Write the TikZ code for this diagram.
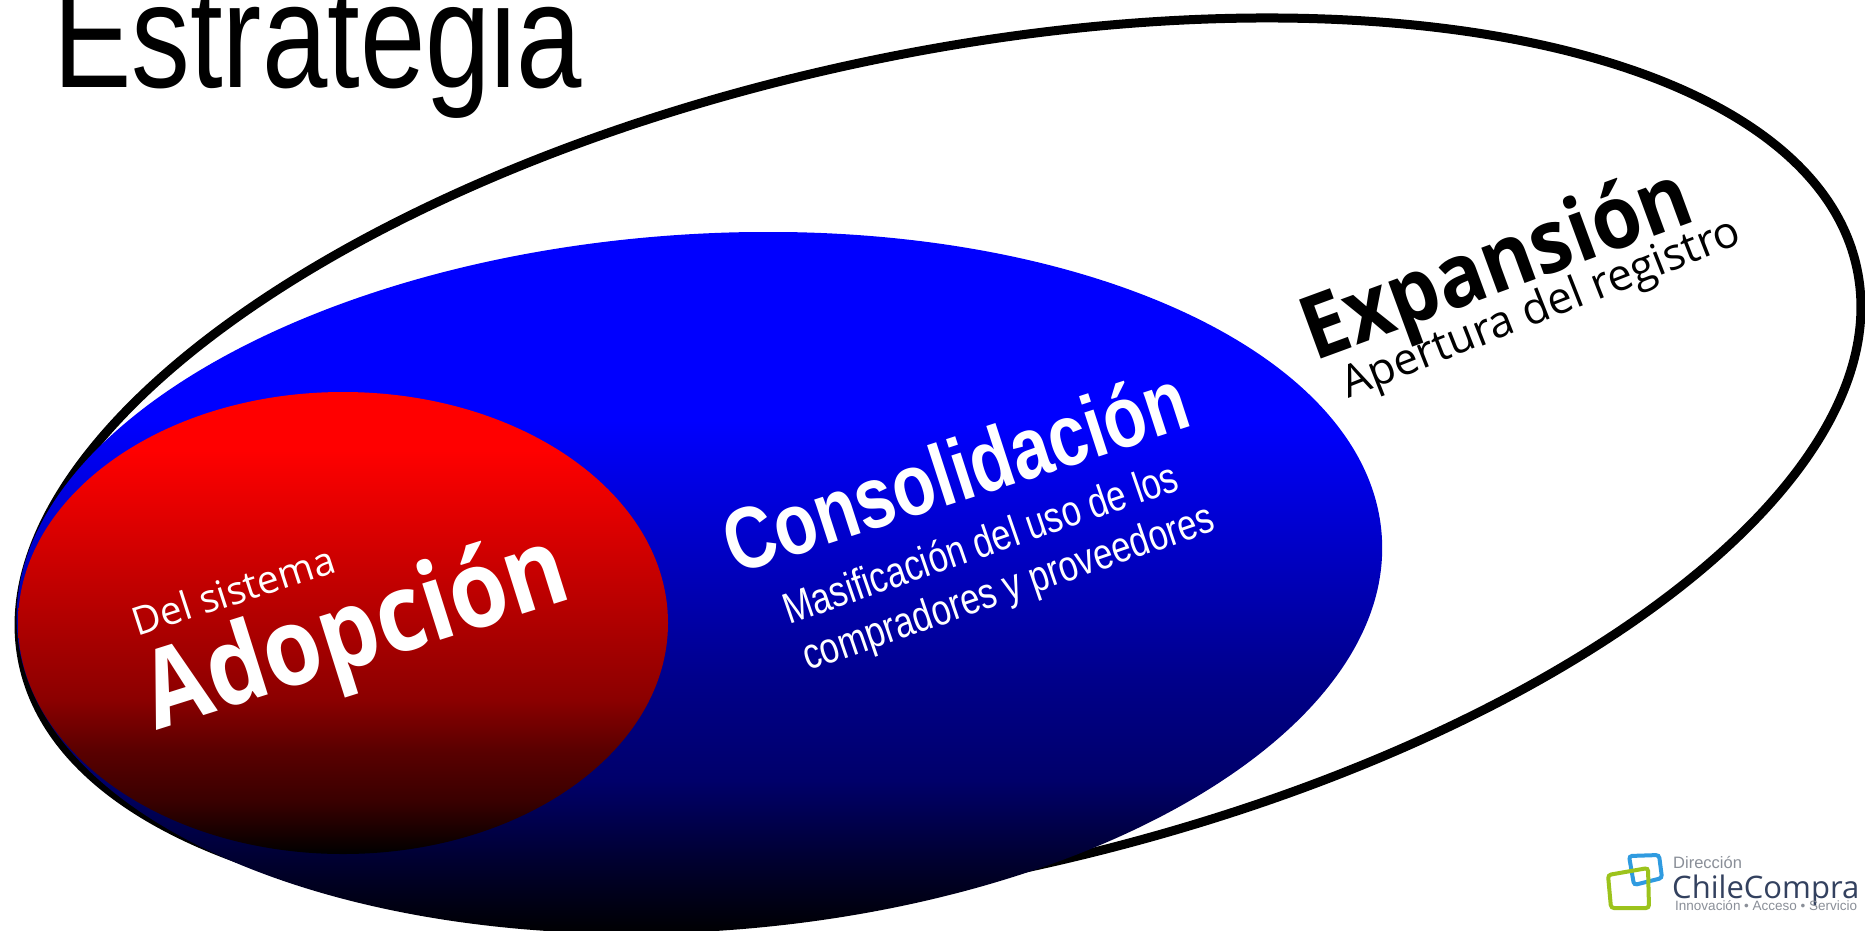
\documentclass[tikz,border=0pt]{standalone}
\usepackage{fontspec}
\usepackage{graphicx}
\setmainfont{Liberation Sans}
\newfontfamily\opensans{Open Sans}
\newfontfamily\opensansbold{Open Sans Bold}
\definecolor{logoblue}{HTML}{2F9BE0}
\definecolor{logogreen}{HTML}{9CC31C}
\definecolor{logonavy}{HTML}{33415F}
\definecolor{logogrey}{HTML}{8A8F98}
\definecolor{ba}{HTML}{00008A}\definecolor{bb}{HTML}{00006A}\definecolor{bc}{HTML}{000030}
\definecolor{ra}{HTML}{E80000}\definecolor{rb}{HTML}{8B0000}\definecolor{rc}{HTML}{5A0000}\definecolor{rd}{HTML}{3A0000}
\pgfdeclareverticalshading{blueshade}{100bp}{color(0bp)=(black);color(25bp)=(black);color(30.3bp)=(bc);color(36bp)=(bb);color(43.1bp)=(ba);color(61.6bp)=(blue);color(100bp)=(blue)}
\pgfdeclareverticalshading{redshade}{100bp}{color(0bp)=(black);color(25bp)=(black);color(30.8bp)=(rd);color(36.2bp)=(rc);color(41.7bp)=(rb);color(63.3bp)=(ra);color(68.7bp)=(red);color(100bp)=(red)}
\tikzset{
  x=1pt,y=-1pt,
  label/.style={inner sep=0pt,anchor=center,white},
  logobox/.style={line width=4pt,rounded corners=3pt},
  logotext/.style={inner sep=0pt,anchor=base west},
}
\newcommand{\tall}[2]{\scalebox{1}[#1]{#2}}
\begin{document}
\begin{tikzpicture}
\useasboundingbox (0,0) rectangle (1865,930);
\clip (0,0) rectangle (1865,930);
\fill[white] (0,0) rectangle (1865,930);
% outer
\draw[line width=9pt,fill=white,rotate around={12.2:(940,466)}] (940,466) ellipse [x radius=938,y radius=411];
% blue
\begin{scope}
  \clip[rotate around={3.95:(699.4,582.8)}] (699.4,582.8) ellipse [x radius=684,y radius=348.5];
  \path[shading=blueshade] (0,232) rectangle (1400,935);
\end{scope}
% red
\begin{scope}
  \clip (343,623) ellipse [x radius=325,y radius=231];
  \path[shading=redshade] (0,392) rectangle (700,854);
\end{scope}
\node (title) [inner sep=0pt,anchor=base west,font=\fontsize{117.5}{117.5}\selectfont] at (53,87) {\tall{1.27}{Estrategia}};
\node (adopcion) [label,rotate=17.5,font=\fontsize{94}{94}\selectfont\opensansbold] at (357,637) {\tall{1.15}{Adopción}};
\node (delsistema) [label,rotate=18,font=\fontsize{39}{39}\selectfont\opensans] at (233,590) {Del sistema};
\node (consol) [label,rotate=18,font=\fontsize{70}{70}\selectfont\bfseries] at (955,470) {\tall{1.25}{Consolidación}};
\node (masif) [label,rotate=19,font=\fontsize{34.7}{34.7}\selectfont] at (980,542) {\tall{1.25}{Masificación del uso de los}};
\node (compr) [label,rotate=19,font=\fontsize{34.7}{34.7}\selectfont] at (1009,590) {\tall{1.25}{compradores y proveedores}};
\node (expansion) [label,black,rotate=20.2,font=\fontsize{80}{80}\selectfont\opensansbold] at (1498,269) {\tall{1.1}{Expansión}};
\node (apertura) [label,black,rotate=21.5,font=\fontsize{44}{44}\selectfont\opensans] at (1542,310) {Apertura del registro};
% logo
\draw[logobox,logoblue] (1629,856) -- (1659,855) -- (1662,878) -- (1634,885) -- cycle;
\draw[logobox,logogreen] (1608,875) -- (1648,868) -- (1649,908) -- (1611,908) -- cycle;
\node (ldir) [logotext,logogrey,font=\fontsize{16.5}{16.5}\selectfont] at (1673,868) {Dirección};
\node (lchile) [logotext,logonavy,font=\fontsize{31}{31}\selectfont\opensans] at (1672,898) {ChileCompra};
\node (lsub) [logotext,logogrey,font=\fontsize{13.5}{13.5}\selectfont] at (1675,910) {Innovación • Acceso • Servicio};
\end{tikzpicture}
\end{document}
